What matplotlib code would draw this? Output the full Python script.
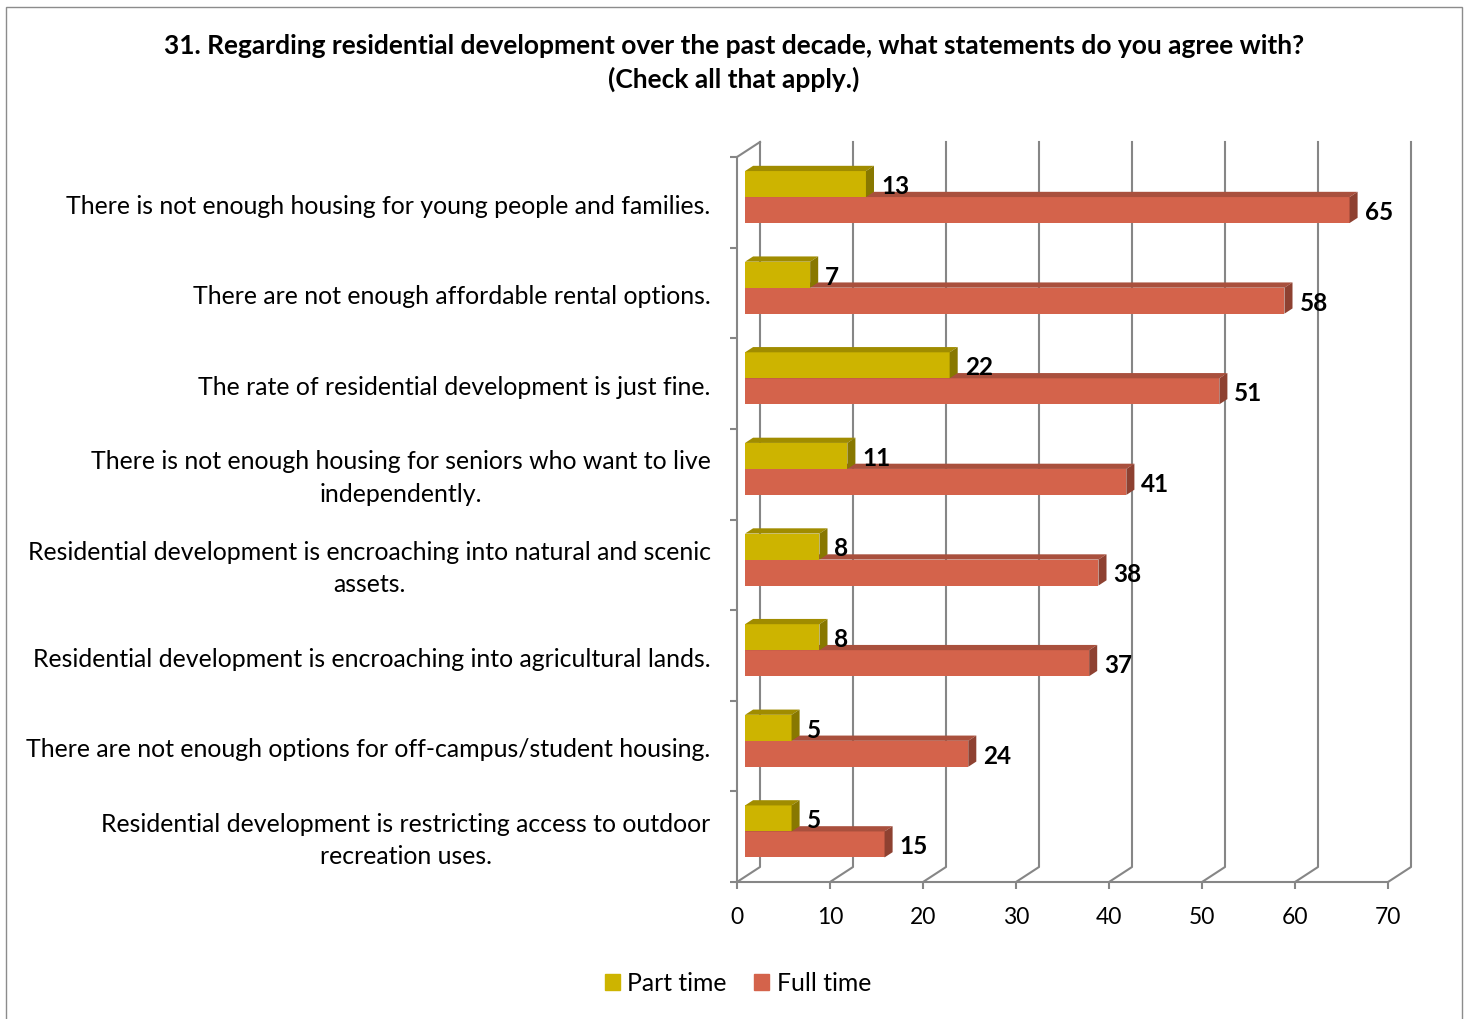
import matplotlib.pyplot as plt
from matplotlib.lines import Line2D
from matplotlib.patches import Polygon, Rectangle

categories = [
    "There is not enough housing for young people and families.",
    "There are not enough affordable rental options.",
    "The rate of residential development is just fine.",
    "There is not enough housing for seniors who want to live\nindependently.",
    "Residential development is encroaching into natural and scenic\nassets.",
    "Residential development is encroaching into agricultural lands.",
    "There are not enough options for off-campus/student housing.",
    "Residential development is restricting access to outdoor\nrecreation uses.",
]
part_time = [13, 7, 22, 11, 8, 8, 5, 5]
full_time = [65, 58, 51, 41, 38, 37, 24, 15]
x_ticks = [0, 10, 20, 30, 40, 50, 60, 70]
series_names = ["Part time", "Full time"]
title = ("31. Regarding residential development over the past decade, "
         "what statements do you agree with?\n(Check all that apply.)")

plt.rcParams["font.family"] = ["Lato", "DejaVu Sans"]

# colours: front, top, side
part_cols = ("#cdb400", "#a08c00", "#887800")
full_cols = ("#d4634b", "#a9503d", "#8e4131")
grid_col = "#868686"

W, H = 1468, 1020
fig = plt.figure(figsize=(W / 100, H / 100), dpi=100)
ax = fig.add_axes([737 / W, (H - 883) / H, 651 / W, 725 / H])
n = len(categories)
xmax = x_ticks[-1]
ax.set_xlim(0, xmax)
ax.set_ylim(n, 0)

# pseudo 3D depth, in data units
DX = 23 / 651 * xmax
DY = 15 / 725 * n
D1, D2 = 0.35, 0.70
BH = 26 / 725 * n


def P(x, y, d):
    return (x + d * DX, y - d * DY)


# walls / gridlines
for v in x_ticks:
    pts = [P(v, n, 0), P(v, n, 1), P(v, 0, 1)]
    ax.add_line(Line2D([p[0] for p in pts], [p[1] for p in pts], color=grid_col,
                       lw=1.5, clip_on=False, zorder=1))
a, b = P(0, 0, 0), P(0, 0, 1)
ax.add_line(Line2D([a[0], b[0]], [a[1], b[1]], color=grid_col, lw=1.5, clip_on=False, zorder=1))

for s in ["top", "right"]:
    ax.spines[s].set_visible(False)
for s in ["left", "bottom"]:
    ax.spines[s].set_color(grid_col)
    ax.spines[s].set_linewidth(1.5)
ax.set_xticks(x_ticks)
ax.set_xticklabels([str(t) for t in x_ticks], fontsize=16.5)
ax.set_yticks(range(n + 1))
ax.set_yticklabels([])
ax.tick_params(axis="both", direction="out", length=5, width=1.5, color=grid_col)
ax.tick_params(axis="x", pad=12.5)
ax.patch.set_visible(False)


def bar3d(val, y_top, y_bot, cols):
    ax.barh((y_top + y_bot) / 2 - D1 * DY, val, height=y_bot - y_top, left=D1 * DX,
            color=cols[0], zorder=3, clip_on=False)
    top = [P(0, y_top, D1), P(val, y_top, D1), P(val, y_top, D2), P(0, y_top, D2)]
    side = [P(val, y_top, D1), P(val, y_bot, D1), P(val, y_bot, D2), P(val, y_top, D2)]
    ax.add_patch(Polygon(top, closed=True, color=cols[1], zorder=3, clip_on=False, lw=0))
    ax.add_patch(Polygon(side, closed=True, color=cols[2], zorder=3, clip_on=False, lw=0))


for i in range(n):
    c = i + 0.5
    bar3d(full_time[i], c, c + BH, full_cols)
    bar3d(part_time[i], c - BH, c, part_cols)
    ax.annotate(str(part_time[i]), xy=(part_time[i] + D2 * DX, c - BH / 2 - D1 * DY),
                xytext=(5, -1), textcoords="offset points", ha="left", va="center",
                fontsize=17.5, fontweight="bold", zorder=5)
    ax.annotate(str(full_time[i]), xy=(full_time[i] + D2 * DX, c + BH / 2 - D1 * DY),
                xytext=(5, -1), textcoords="offset points", ha="left", va="center",
                fontsize=17.5, fontweight="bold", zorder=5)
    ax.annotate(categories[i], xy=(0, c), xytext=(-19, -2), textcoords="offset points",
                ha="right", va="center", multialignment="center", fontsize=17.9,
                linespacing=1.5, annotation_clip=False)

fig.text(734 / W, 1 - 63 / H, title, ha="center", va="center", fontsize=19,
         fontweight="bold", linespacing=1.42)

handles = [Rectangle((0, 0), 1, 1, color=part_cols[0]), Rectangle((0, 0), 1, 1, color=full_cols[0])]
fig.legend(handles, series_names, loc="center", bbox_to_anchor=(738 / W, 1 - 984 / H), ncol=2,
           frameon=False, fontsize=17.8, handlelength=0.62, handleheight=0.62,
           handletextpad=0.3, columnspacing=1.1)

fig.add_artist(Rectangle((6 / W, -0.02), 1456 / W, 1.02 - 8 / H, transform=fig.transFigure,
                         fill=False, edgecolor="#8c8c8c", lw=1))

fig.savefig("out.png", dpi=100)
